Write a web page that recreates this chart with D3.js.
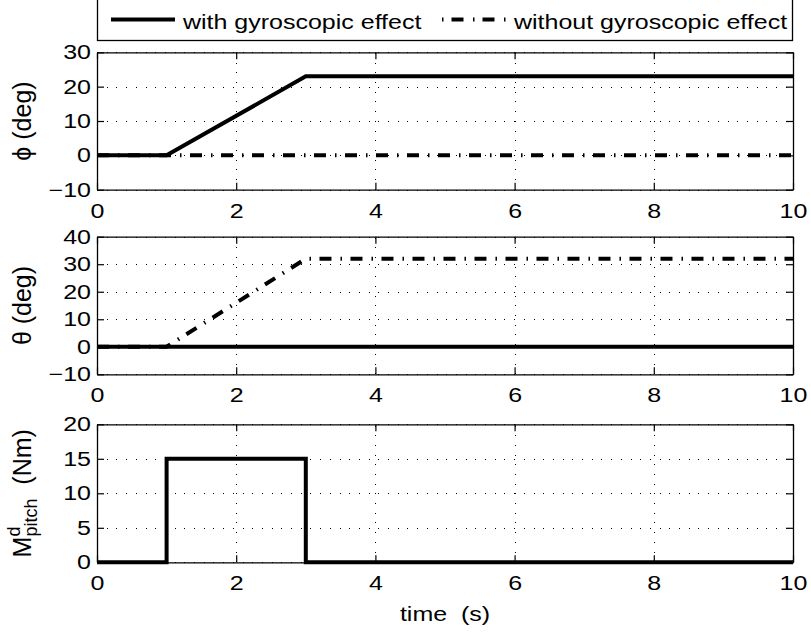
<!DOCTYPE html>
<html>
<head>
<meta charset="utf-8">
<script src="https://cdn.jsdelivr.net/npm/d3@7"></script>
<style>
  html, body { margin: 0; padding: 0; background: #fff; }
  svg { display: block; }
  text { font-family: "Liberation Sans", Arial, Helvetica, sans-serif; fill: #000; }
</style>
</head>
<body>
<svg id="chart" width="811" height="635"></svg>
<script>
// ---------------- data ----------------
const timeTicks = [0, 2, 4, 6, 8, 10];
const phiTicks = [-10, 0, 10, 20, 30];
const thetaTicks = [-10, 0, 10, 20, 30, 40];
const momentTicks = [0, 5, 10, 15, 20];

const legendLabels = ["with gyroscopic effect", "without gyroscopic effect"];

// roll angle phi (deg)
const phiWithT = [0, 1, 3, 10];
const phiWithV = [0, 0, 23, 23];
const phiWithoutT = [0, 10];
const phiWithoutV = [0, 0];

// pitch angle theta (deg)
const thetaWithT = [0, 10];
const thetaWithV = [0, 0];
const thetaWithoutT = [0, 1, 3, 10];
const thetaWithoutV = [0, 0, 32, 32];

// disturbance pitch moment (Nm)
const momentT = [0, 1, 1, 3, 3, 10];
const momentV = [0, 0, 15, 15, 0, 0];

// ---------------- layout ----------------
const SX = 1.25;           // horizontal stretch of text glyphs
const FS = 20;
const left = 97, right = 793;
const DASHDOT = "12 9 1.5 8.5";

const svg = d3.select("#chart");
const x = d3.scaleLinear().domain([0, 10]).range([left, right]);

const zip = (t, v) => t.map((d, i) => [d, v[i]]);

const panels = [
  { top: 52.3, bottom: 189.7, domain: [-10, 30], ticks: phiTicks,
    series: [ { d: zip(phiWithT, phiWithV), dash: null },
              { d: zip(phiWithoutT, phiWithoutV), dash: DASHDOT } ],
    label: "phi" },
  { top: 236.7, bottom: 374.3, domain: [-10, 40], ticks: thetaTicks,
    series: [ { d: zip(thetaWithT, thetaWithV), dash: null },
              { d: zip(thetaWithoutT, thetaWithoutV), dash: DASHDOT } ],
    label: "theta" },
  { top: 424.3, bottom: 562.3, domain: [0, 20], ticks: momentTicks,
    series: [ { d: zip(momentT, momentV), dash: null } ],
    label: "moment" }
];

function stretchTicks(g) {
  g.selectAll(".tick text").each(function () {
    const t = d3.select(this);
    const xx = +t.attr("x") || 0;
    t.attr("x", xx / SX).attr("transform", `scale(${SX},1)`);
  });
}

panels.forEach((p, idx) => {
  const y = d3.scaleLinear().domain(p.domain).range([p.bottom, p.top]);
  const w = right - left, h = p.bottom - p.top;
  const g = svg.append("g");

  // grid
  g.append("g").attr("transform", `translate(0,${p.bottom})`)
    .call(d3.axisBottom(x).tickValues(timeTicks).tickSize(-h).tickFormat(""))
    .call(a => a.select(".domain").remove())
    .call(a => a.selectAll(".tick line").attr("stroke", "#000").attr("stroke-width", 1)
      .attr("stroke-dasharray", "1 8.7").attr("shape-rendering", "crispEdges"));
  g.append("g").attr("transform", `translate(${left},0)`)
    .call(d3.axisLeft(y).tickValues(p.ticks).tickSize(-w).tickFormat(""))
    .call(a => a.select(".domain").remove())
    .call(a => a.selectAll(".tick line").attr("stroke", "#000").attr("stroke-width", 1)
      .attr("stroke-dasharray", "1 8.7").attr("shape-rendering", "crispEdges"));

  // data
  const line = d3.line().x(d => x(d[0])).y(d => y(d[1]));
  p.series.forEach(s => {
    g.append("path").datum(s.d).attr("d", line)
      .attr("fill", "none").attr("stroke", "#000").attr("stroke-width", 4)
      .attr("stroke-linejoin", "miter")
      .attr("stroke-dasharray", s.dash);
  });

  // axes
  const axB = g.append("g").attr("transform", `translate(0,${p.bottom})`)
    .call(d3.axisBottom(x).tickValues(timeTicks).tickSize(-7).tickPadding(14).tickSizeOuter(0));
  const axT = g.append("g").attr("transform", `translate(0,${p.top})`)
    .call(d3.axisTop(x).tickValues(timeTicks).tickSize(-7).tickSizeOuter(0).tickFormat(""));
  const axL = g.append("g").attr("transform", `translate(${left},0)`)
    .call(d3.axisLeft(y).tickValues(p.ticks).tickSize(-7).tickPadding(6).tickSizeOuter(0));
  const axR = g.append("g").attr("transform", `translate(${right},0)`)
    .call(d3.axisRight(y).tickValues(p.ticks).tickSize(-7).tickSizeOuter(0).tickFormat(""));
  [axB, axT, axL, axR].forEach(a => {
    a.selectAll("path.domain").attr("stroke", "#000").attr("stroke-width", 1.3);
    a.selectAll(".tick line").attr("stroke", "#000").attr("stroke-width", 1.2);
    a.selectAll(".tick text").attr("font-size", FS).attr("font-family", "Liberation Sans, Arial, sans-serif").attr("fill", "#000");
  });
  stretchTicks(axB);
  stretchTicks(axL);

  // y label
  const cy = (p.top + p.bottom) / 2;
  if (p.label === "phi" || p.label === "theta") {
    svg.append("text")
      .attr("transform", `translate(31,${cy}) rotate(-90)`)
      .attr("text-anchor", "middle").attr("font-size", 25)
      .text((p.label === "phi" ? "\u03D5" : "\u03B8") + " (deg)");
  } else {
    const t = svg.append("text")
      .attr("transform", `translate(31,${cy}) rotate(-90)`)
      .attr("text-anchor", "middle").attr("font-size", 25);
    t.append("tspan").text("M");
    t.append("tspan").attr("font-size", 18).attr("dy", -11).text("d");
    t.append("tspan").attr("font-size", 18).attr("dx", -10).attr("dy", 17).text("pitch");
    t.append("tspan").attr("dy", -6).text("\u00A0\u00A0(Nm)");
  }
});

// x label
svg.append("text")
  .attr("transform", `translate(${(left + right) / 2},621) scale(${SX},1)`)
  .attr("text-anchor", "middle").attr("font-size", FS)
  .text("time\u00A0\u00A0(s)");

// legend
const lg = svg.append("g");
lg.append("rect").attr("x", 97.5).attr("y", -10).attr("width", 695).attr("height", 50.5)
  .attr("fill", "#fff").attr("stroke", "#000").attr("stroke-width", 1.3);
const legendItems = [
  { x0: 111, x1: 175, tx: 183, dash: null },
  { x0: 442, x1: 506, tx: 514, dash: "1.5 8 12 9.5" }
];
legendItems.forEach((it, i) => {
  lg.append("line").attr("x1", it.x0).attr("x2", it.x1).attr("y1", 19.5).attr("y2", 19.5)
    .attr("stroke", "#000").attr("stroke-width", 4).attr("stroke-dasharray", it.dash);
  lg.append("text").attr("transform", `translate(${it.tx},28.5) scale(${SX},1)`)
    .attr("font-size", FS).text(legendLabels[i]);
});
</script>
</body>
</html>
